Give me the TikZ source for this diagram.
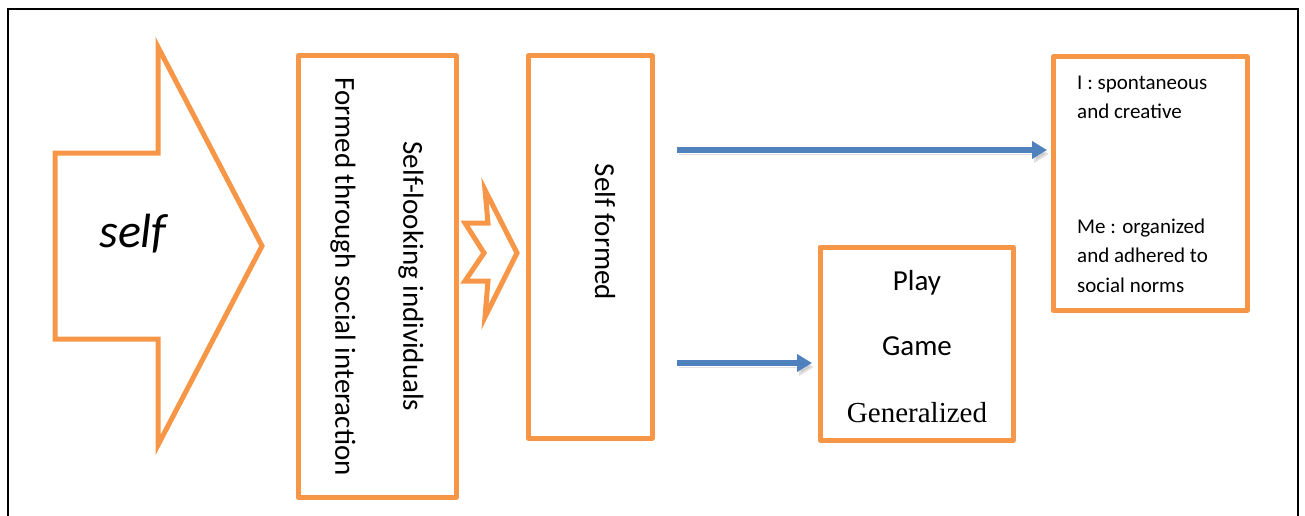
\documentclass[tikz,border=0pt]{standalone}
\usepackage{fontspec}
\setmainfont{Carlito}
\newfontfamily\timesfont{Liberation Serif}
\usetikzlibrary{arrows.meta}
\definecolor{boxorange}{HTML}{F79646}
\definecolor{flowblue}{HTML}{4F81BD}

\begin{document}
\begin{tikzpicture}[x=1pt, y=-1pt,
  outline/.style={draw=boxorange, line width=5pt},
  box/.style={outline, line join=round, inner sep=0pt, outer sep=0pt},
  flow/.style={draw=flowblue, line width=5.5pt, -{Triangle[length=15pt, width=17pt]},
    preaction={draw=black!35, opacity=0.35, transform canvas={shift={(2,4)}}}},
  big/.style={font=\fontsize{29}{35}\selectfont},
  small/.style={font=\fontsize{21}{29.5}\selectfont}]
\useasboundingbox (0,0) rectangle (1305,516);
\draw[line width=2pt] (8,530) -- (8,9) -- (1298,9) -- (1298,530);

% big arrow
\draw[outline] (55,153) -- (158,153) -- (158,47) -- (262,246) -- (158,445) -- (158,339) -- (55,339) -- cycle;
\node[font=\fontsize{48}{54}\selectfont\itshape, anchor=base] (selflabel) at (133,247) {self};

\node[box, rotate=-90, minimum width=441pt, minimum height=158pt, align=center,
  font=\fontsize{29}{68}\selectfont] (looking) at (377,276.5)
  {Self-looking individuals\\Formed through social interaction};

% notched arrow
\draw[outline] (465,223) -- (488,223) -- (485,190) -- (517,253) -- (485,317) -- (488,281) -- (465,281) -- (484,253) -- cycle;

\node[box, minimum width=124pt, minimum height=382pt] (formed) at (590,247) {};
\node[big, rotate=-90] (formedtext) at (605,232) {Self formed};

\node[box, minimum width=193pt, minimum height=193pt] (stages) at (916.5,343.5) {};
\node[big, anchor=base] (play) at (917,290) {Play};
\node[big, anchor=base] (game) at (917,355) {Game};
\node[big, anchor=base, font=\timesfont\fontsize{29}{35}\selectfont] (general) at (917,422) {Generalized};

\node[box, minimum width=194pt, minimum height=253pt] (selves) at (1150,183.5) {};
\node[small, anchor=base west, align=left, inner sep=0pt] (iself) at (1077,119) {I : spontaneous\\and creative};
\node[small, anchor=base west, align=left, inner sep=0pt] (meself) at (1077,292) {Me : organized\\and adhered to\\social norms};

\coordinate (upper) at (0,150);
\coordinate (lower) at (0,363);
\draw[flow, shorten <=25pt, shorten >=6pt] (formed.east |- upper) -- (selves.west |- upper);
\draw[flow, shorten <=25pt, shorten >=8pt] (formed.east |- lower) -- (stages.west |- lower);
\end{tikzpicture}
\end{document}
